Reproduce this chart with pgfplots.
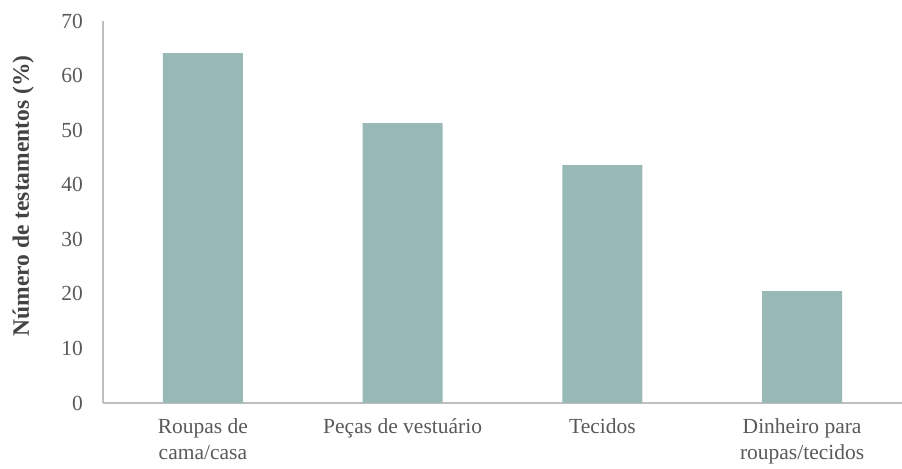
\documentclass[border=0pt]{standalone}
\usepackage{pgfplots}
\pgfplotsset{compat=1.18}
\usepackage{fontspec}
\setmainfont{Liberation Serif}
\definecolor{barc}{HTML}{98B9B6}
\definecolor{axc}{HTML}{BFBFBF}
\definecolor{txt}{HTML}{595959}
\begin{document}
\begin{tikzpicture}
\begin{axis}[
    scale only axis,
    width=799pt, height=382pt,
    xmin=-0.5, xmax=3.5,
    ymin=0, ymax=70,
    ytick={0,10,...,70},
    xtick=data,
    xticklabels={{Roupas de\\cama/casa},{Peças de vestuário},{Tecidos},{Dinheiro para\\roupas/tecidos}},
    x tick label style={align=center, font=\fontsize{21.5}{26}\selectfont, text=txt, inner ysep=0pt, yshift=-15pt},
    y tick label style={font=\fontsize{21.5}{26}\selectfont, text=txt, inner xsep=0pt, xshift=-20pt},
    /pgf/number format/assume math mode=true,
    axis x line=bottom, axis y line=left,
    axis line style={draw=axc, line width=1.2pt, -},
    major tick length=0pt,
    ylabel={\fontsize{23.5}{28}\selectfont\bfseries Número de testamentos (\%)},
    every axis y label/.style={at={(axis description cs:-0.1,0.542)}, rotate=90, anchor=center,
        text=txt!75!black},
    ybar, bar width=0.4,
]
\addplot[fill=barc, draw=none] coordinates {(0,64.1) (1,51.3) (2,43.6) (3,20.5)};
\coordinate (ll) at (rel axis cs:0,0);
\coordinate (ur) at (rel axis cs:1,1);
\end{axis}
\pgfresetboundingbox
\path ([xshift=-103pt,yshift=-66pt]ll) rectangle ([yshift=21pt]ur);
\end{tikzpicture}
\end{document}
